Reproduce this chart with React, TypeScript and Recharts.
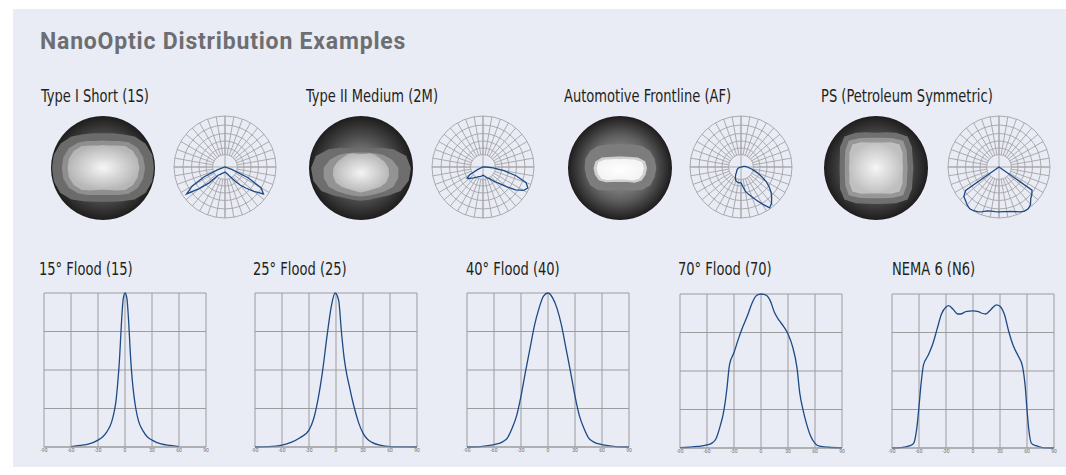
import React from "react";
import {
  LineChart,
  Line,
  XAxis,
  YAxis,
  CartesianGrid,
  RadarChart,
  Radar,
  PolarGrid,
  PolarAngleAxis,
  PolarRadiusAxis,
  PieChart,
  Pie,
} from "recharts";

const panelBg = "#e9ecf5";
const ink = "#231f20";
const navy = "#1d4a86";
const gridGray = "#9c9c9e";
const narrow = '"Liberation Sans Narrow", "DejaVu Sans Condensed", "Roboto", sans-serif';

// ---- flood beam profiles: [angle deg, % of peak] ----
const flood15 = [
  [-60, 0.3], [-50, 1], [-40, 2], [-30, 4.5], [-25, 6.5], [-20, 10], [-15, 16], [-12, 23],
  [-10, 30], [-8, 42], [-6, 58], [-4, 80], [-2, 96], [0, 100], [2, 97], [4, 82], [6, 60],
  [8, 44], [10, 33], [12, 25], [15, 17], [20, 10.5], [25, 6.5], [30, 4.5], [40, 2], [50, 1], [60, 0.2],
];
const flood25 = [
  [-90, 0], [-75, 0.2], [-60, 1.2], [-50, 3], [-40, 6], [-30, 11], [-25, 18], [-20, 31],
  [-15, 49], [-10, 72], [-5, 92], [-1, 100], [3, 95], [6, 75], [9, 58], [12, 47], [15, 39],
  [18, 31], [21, 24], [25, 16], [30, 9], [35, 5], [40, 3], [50, 1], [60, 0.3], [75, 0.1], [90, 0],
];
const flood40 = [
  [-90, 0], [-75, 0.3], [-60, 1.5], [-50, 3.5], [-45, 6], [-40, 12], [-35, 20], [-30, 33],
  [-25, 49], [-20, 64], [-15, 79], [-10, 90], [-5, 98], [0, 100], [5, 97], [10, 90], [15, 79],
  [20, 64], [25, 49], [30, 33], [35, 20], [40, 12], [45, 6], [50, 3.5], [60, 1.5], [75, 0.3], [90, 0],
];
const flood70 = [
  [-90, 0.2], [-80, 0.5], [-70, 1], [-60, 2], [-55, 3], [-50, 6], [-45, 15], [-42, 22], [-40, 29],
  [-38, 38], [-35, 54], [-30, 62], [-25, 71], [-20, 79], [-15, 86], [-10, 94], [-5, 99], [0, 100],
  [5, 99.5], [10, 96], [15, 88], [20, 83], [25, 79], [30, 74], [35, 66], [40, 52], [43, 36],
  [47, 24], [50, 17], [55, 8], [60, 3], [65, 1.2], [75, 0.5], [90, 0.1],
];
const nema6 = [
  [-90, 0], [-80, 0.2], [-70, 1.5], [-66, 3], [-62, 15], [-60, 27], [-58, 40], [-55, 54],
  [-50, 60], [-45, 67], [-40, 77], [-35, 87], [-30, 91.5], [-27, 92.5], [-22, 90], [-17, 87],
  [-14, 87], [-8, 88.5], [0, 89], [6, 88.5], [10, 87.5], [14, 87], [20, 90], [26, 93], [30, 92],
  [35, 86.5], [40, 75], [45, 66], [50, 60], [55, 53], [58, 40], [60, 25], [62, 12], [65, 3],
  [70, 1.5], [77, 0.3], [90, 0],
];
const xTicks = [-90, -60, -30, 0, 30, 60, 90];
const yTicks = [0, 25, 50, 75, 100];

// ---- candela polar curves: [deg from nadir, right +, % of max] ----
const type1Candela = [
  [-75, 0], [-70, 15], [-65, 45], [-60, 74], [-55, 92], [-50, 66], [-45, 44], [-40, 21],
  [-35, 18], [-30, 16], [-25, 14], [-20, 13], [-15, 12], [-10, 11], [-5, 10.5], [0, 10],
  [5, 10.5], [10, 11.5], [15, 13], [20, 15], [25, 19], [30, 24], [35, 33], [40, 46], [45, 59],
  [50, 74], [55, 92], [60, 82], [65, 50], [70, 14], [75, 0],
];
const type2Candela = [
  [-70, 0], [-65, 12], [-60, 30], [-55, 38], [-50, 35], [-45, 31], [-40, 28], [-35, 25],
  [-30, 23], [-25, 21], [-20, 20], [-15, 19], [-10, 18], [-5, 17], [0, 16], [5, 17], [10, 18],
  [15, 20], [20, 22], [25, 24], [30, 27], [35, 32], [40, 38], [45, 46], [50, 60], [55, 78],
  [60, 92], [65, 97], [70, 90], [75, 68], [80, 42], [85, 20], [90, 6], [95, 0],
];
const afCandela = [
  [-75, 0], [-70, 4], [-65, 6], [-60, 8], [-55, 9], [-50, 11], [-45, 12], [-40, 14], [-35, 18],
  [-30, 22], [-25, 26], [-20, 29], [-15, 30], [-10, 31], [-5, 31], [0, 31], [5, 38], [10, 48],
  [15, 55], [20, 62], [25, 72], [30, 84], [35, 98], [40, 93], [45, 85], [50, 77], [55, 67],
  [60, 57], [65, 45], [70, 35], [75, 27], [80, 20], [85, 15], [90, 12], [95, 10], [100, 8],
  [105, 5], [110, 0],
];
const psCandela = [
  [-60, 0], [-55, 80], [-50, 90], [-45, 93], [-40, 97], [-35, 100], [-30, 99], [-25, 97],
  [-20, 93], [-15, 89], [-10, 88], [-5, 88], [0, 88], [5, 88], [10, 89], [15, 90], [20, 93],
  [25, 97], [30, 100], [35, 100], [40, 96], [45, 88], [50, 84], [55, 79], [60, 0],
];
const candelaSteps = Array.from({ length: 72 }, (_, k) => k * 5);
const spokeAngles = Array.from({ length: 36 }, (_, k) => k * 10);
const ringRadii = [12.5, 19, 26, 33.5, 42, 51];

// ---- isolux contours: radius fraction at 15deg steps from nadir, counter-clockwise ----
const isoSteps = [0, 15, 30, 45, 60, 75, 90, 105, 120, 135, 150, 165, 180, 195, 210, 225, 240, 255, 270, 285, 300, 315, 330, 345];
const t1Outer = [0.65, 0.67, 0.74, 0.86, 0.95, 0.98, 0.98, 0.98, 0.94, 0.86, 0.75, 0.69, 0.67, 0.69, 0.75, 0.86, 0.94, 0.98, 0.98, 0.98, 0.95, 0.86, 0.74, 0.67];
const t1Mid = [0.52, 0.54, 0.6, 0.7, 0.77, 0.8, 0.81, 0.8, 0.77, 0.7, 0.6, 0.54, 0.53, 0.54, 0.6, 0.69, 0.76, 0.79, 0.79, 0.79, 0.76, 0.69, 0.6, 0.54];
const t1Core = [0.42, 0.44, 0.5, 0.6, 0.66, 0.69, 0.7, 0.69, 0.66, 0.6, 0.5, 0.45, 0.44, 0.45, 0.5, 0.59, 0.65, 0.68, 0.68, 0.68, 0.65, 0.59, 0.5, 0.44];
const t2Outer = [0.63, 0.63, 0.66, 0.75, 0.88, 0.95, 0.96, 0.9, 0.72, 0.55, 0.44, 0.39, 0.38, 0.39, 0.44, 0.55, 0.72, 0.9, 0.96, 0.95, 0.88, 0.75, 0.66, 0.63];
const t2Mid = [0.55, 0.55, 0.58, 0.64, 0.72, 0.74, 0.72, 0.62, 0.5, 0.4, 0.34, 0.31, 0.3, 0.31, 0.34, 0.4, 0.5, 0.62, 0.72, 0.74, 0.72, 0.64, 0.58, 0.55];
const t2Core = [0.47, 0.46, 0.47, 0.52, 0.56, 0.56, 0.53, 0.47, 0.4, 0.37, 0.33, 0.28, 0.27, 0.28, 0.33, 0.37, 0.4, 0.47, 0.53, 0.56, 0.56, 0.52, 0.47, 0.46];
const afOuter = [0.42, 0.44, 0.5, 0.6, 0.67, 0.69, 0.7, 0.69, 0.66, 0.6, 0.52, 0.47, 0.46, 0.47, 0.52, 0.6, 0.66, 0.69, 0.68, 0.67, 0.66, 0.6, 0.5, 0.44];
const afMid = [0.27, 0.28, 0.31, 0.4, 0.48, 0.51, 0.52, 0.5, 0.4, 0.3, 0.25, 0.23, 0.22, 0.23, 0.25, 0.3, 0.4, 0.49, 0.51, 0.5, 0.47, 0.39, 0.31, 0.28];
const afCore = [0.22, 0.23, 0.26, 0.34, 0.42, 0.45, 0.46, 0.44, 0.33, 0.24, 0.2, 0.18, 0.17, 0.18, 0.2, 0.24, 0.33, 0.43, 0.45, 0.44, 0.41, 0.33, 0.26, 0.23];
const psOuter = [0.69, 0.71, 0.78, 0.86, 0.8, 0.73, 0.72, 0.73, 0.8, 0.86, 0.78, 0.71, 0.68, 0.71, 0.78, 0.86, 0.8, 0.72, 0.7, 0.72, 0.8, 0.86, 0.78, 0.71];
const psMid = [0.58, 0.6, 0.66, 0.74, 0.68, 0.62, 0.61, 0.62, 0.68, 0.74, 0.66, 0.6, 0.58, 0.6, 0.66, 0.74, 0.68, 0.62, 0.6, 0.62, 0.68, 0.74, 0.66, 0.6];
const psCore = [0.49, 0.51, 0.57, 0.64, 0.59, 0.53, 0.52, 0.53, 0.59, 0.64, 0.57, 0.51, 0.49, 0.51, 0.57, 0.64, 0.59, 0.53, 0.52, 0.53, 0.59, 0.64, 0.57, 0.51];

const toRows = (pts: number[][]) => pts.map(([deg, v]) => ({ deg, v }));

const candelaTable = (readings: number[][]) =>
  candelaSteps.map((a) => {
    const s = a <= 180 ? a : a - 360;
    const hit = readings.find((r) => r[0] === s);
    return { a, v: hit ? hit[1] : 0 };
  });

const isoTable = (outer: number[], mid: number[], core: number[]) =>
  isoSteps.map((a, i) => ({ a, outer: outer[i], mid: mid[i], core: core[i] }));

const groups = [
  { title: "Type I Short (1S)", labelX: 41, diskX: 103, polarX: 225, iso: isoTable(t1Outer, t1Mid, t1Core), candela: type1Candela, tone: ["#a0a0a0", "#4c4c4c", "#1e1c1d"], bands: ["#6b6b6b", "#8f8f8f"], core: ["#f6f6f6", "#b6b6b6"] },
  { title: "Type II Medium (2M)", labelX: 306, diskX: 361, polarX: 483, iso: isoTable(t2Outer, t2Mid, t2Core), candela: type2Candela, tone: ["#a0a0a0", "#4c4c4c", "#1e1c1d"], bands: ["#6e6e6e", "#939393"], core: ["#f4f4f4", "#b8b8b8"] },
  { title: "Automotive Frontline (AF)", labelX: 563.5, diskX: 620, polarX: 741, iso: isoTable(afOuter, afMid, afCore), candela: afCandela, tone: ["#b0b0b0", "#606060", "#1e1c1d"], bands: ["#7d7d7d", "#cfcfcf"], core: ["#ffffff", "#f4f4f4"] },
  { title: "PS (Petroleum Symmetric)", labelX: 821, diskX: 876, polarX: 999, iso: isoTable(psOuter, psMid, psCore), candela: psCandela, tone: ["#a0a0a0", "#4c4c4c", "#1e1c1d"], bands: ["#707070", "#979797"], core: ["#f6f6f6", "#c0c0c0"] },
];

const floods = [
  { title: "15° Flood (15)", labelX: 39, plotX: 44, top: 292, pts: flood15 },
  { title: "25° Flood (25)", labelX: 253, plotX: 255, top: 292, pts: flood25 },
  { title: "40° Flood (40)", labelX: 466, plotX: 467, top: 292, pts: flood40 },
  { title: "70° Flood (70)", labelX: 678, plotX: 680, top: 293, pts: flood70 },
  { title: "NEMA 6 (N6)", labelX: 892, plotX: 892, top: 293, pts: nema6 },
];

const labelStyle = (x: number, y: number): React.CSSProperties => ({
  position: "absolute",
  left: x,
  top: y,
  fontFamily: narrow,
  fontSize: 17.5,
  lineHeight: "18px",
  color: ink,
  whiteSpace: "nowrap",
  transform: "scaleX(0.83)",
  transformOrigin: "0 0",
});

// numeric angle axis: degrees from nadir, counter-clockwise on screen
const AngleAxis = () => (
  <PolarAngleAxis dataKey="a" type="number" domain={[0, 360]} tick={false} axisLine={false} tickLine={false} />
);

function IsoDisk({ g, idx }: { g: any; idx: number }) {
  const size = 108;
  const c = size / 2;
  return (
    <div style={{ position: "absolute", left: g.diskX - c, top: 167.5 - c, width: size, height: size }}>
      <div style={{ position: "absolute", left: 0, top: 0 }}>
        <PieChart width={size} height={size} margin={{ top: 0, right: 0, bottom: 0, left: 0 }}>
          <defs>
            <radialGradient id={`disk${idx}`} cx="50%" cy="50%" r="50%">
              <stop offset="0%" stopColor={g.tone[0]} />
              <stop offset="62%" stopColor={g.tone[1]} />
              <stop offset="100%" stopColor={g.tone[2]} />
            </radialGradient>
          </defs>
          <Pie
            data={[{ v: 1 }]}
            dataKey="v"
            cx={c}
            cy={c}
            outerRadius={52}
            fill={`url(#disk${idx})`}
            stroke="none"
            isAnimationActive={false}
          />
        </PieChart>
      </div>
      <div style={{ position: "absolute", left: 0, top: 0 }}>
        <RadarChart
          width={size}
          height={size}
          cx={c}
          cy={c}
          outerRadius={52}
          startAngle={-90}
          endAngle={270}
          data={g.iso}
          margin={{ top: 0, right: 0, bottom: 0, left: 0 }}
        >
          <defs>
            <radialGradient id={`core${idx}`} cx="50%" cy="50%" r="50%">
              <stop offset="0%" stopColor={g.core[0]} />
              <stop offset="100%" stopColor={g.core[1]} />
            </radialGradient>
          </defs>
          {AngleAxis()}
          <PolarRadiusAxis domain={[0, 1]} tick={false} axisLine={false} />
          <Radar dataKey="outer" fill={g.bands[0]} fillOpacity={1} stroke="none" dot={false} isAnimationActive={false} />
          <Radar dataKey="mid" fill={g.bands[1]} fillOpacity={1} stroke="none" dot={false} isAnimationActive={false} />
          <Radar dataKey="core" fill={`url(#core${idx})`} fillOpacity={1} stroke="none" dot={false} isAnimationActive={false} />
        </RadarChart>
      </div>
    </div>
  );
}

function CandelaPlot({ g }: { g: any }) {
  const size = 112;
  const c = size / 2;
  const rows = candelaTable(g.candela);
  return (
    <div style={{ position: "absolute", left: g.polarX - c, top: 167 - c, width: size, height: size }}>
      <div style={{ position: "absolute", left: 0, top: 0 }}>
        <RadarChart width={size} height={size} cx={c} cy={c} innerRadius={12.5} outerRadius={51} data={rows} margin={{ top: 0, right: 0, bottom: 0, left: 0 }}>
          <PolarGrid gridType="circle" polarAngles={spokeAngles} polarRadius={[]} stroke="#a4a4a6" strokeWidth={0.9} />
          {AngleAxis()}
          <PolarRadiusAxis domain={[0, 100]} tick={false} axisLine={false} />
        </RadarChart>
      </div>
      <div style={{ position: "absolute", left: 0, top: 0 }}>
        <RadarChart
          width={size}
          height={size}
          cx={c}
          cy={c}
          innerRadius={0}
          outerRadius={51}
          startAngle={-90}
          endAngle={270}
          data={rows}
          margin={{ top: 0, right: 0, bottom: 0, left: 0 }}
        >
          <PolarGrid gridType="circle" polarAngles={[0, 90, 180, 270]} polarRadius={ringRadii} stroke="#a4a4a6" strokeWidth={0.9} />
          {AngleAxis()}
          <PolarRadiusAxis domain={[0, 100]} tick={false} axisLine={false} />
          <Radar dataKey="v" stroke={navy} strokeWidth={1.3} fill="none" fillOpacity={0} dot={false} isAnimationActive={false} />
        </RadarChart>
      </div>
    </div>
  );
}

function FloodPlot({ f }: { f: any }) {
  return (
    <div style={{ position: "absolute", left: f.plotX - 6, top: f.top, width: 174, height: 165 }}>
      <LineChart width={174} height={165} data={toRows(f.pts)} margin={{ top: 1, right: 6, bottom: 0, left: 6 }}>
        <CartesianGrid stroke={gridGray} strokeWidth={1} />
        <XAxis
          dataKey="deg"
          type="number"
          domain={[-90, 90]}
          ticks={xTicks}
          height={10}
          tickLine={false}
          tickSize={0}
          tickMargin={1}
          axisLine={{ stroke: gridGray }}
          tick={{ fontSize: 5, fill: "#707072", fontFamily: "Roboto, sans-serif" }}
          interval={0}
        />
        <YAxis hide domain={[0, 100]} ticks={yTicks} />
        <Line type="monotone" dataKey="v" stroke={navy} strokeWidth={1.3} dot={false} isAnimationActive={false} />
      </LineChart>
    </div>
  );
}

export default function App() {
  return (
    <div style={{ position: "absolute", left: 0, top: 0, width: 1066, height: 475, background: "#ffffff", overflow: "hidden" }}>
      <div style={{ position: "absolute", left: 13, top: 9, width: 1053, height: 458, background: panelBg }} />
      <div
        style={{
          position: "absolute",
          left: 40,
          top: 30,
          fontFamily: "Roboto, sans-serif",
          fontWeight: 700,
          fontSize: 23,
          lineHeight: "23px",
          letterSpacing: 0.8,
          color: "#6d6e71",
          whiteSpace: "nowrap",
        }}
      >
        NanoOptic Distribution Examples
      </div>
      {groups.map((g, i) => (
        <React.Fragment key={g.title}>
          <div style={labelStyle(g.labelX, 87)}>{g.title}</div>
          <IsoDisk g={g} idx={i} />
          <CandelaPlot g={g} />
        </React.Fragment>
      ))}
      {floods.map((f) => (
        <React.Fragment key={f.title}>
          <div style={labelStyle(f.labelX, 260)}>{f.title}</div>
          <FloodPlot f={f} />
        </React.Fragment>
      ))}
    </div>
  );
}
